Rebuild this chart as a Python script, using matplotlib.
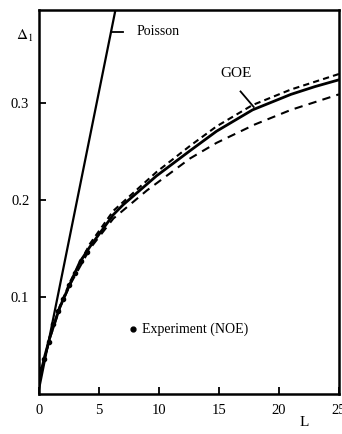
import matplotlib.pyplot as plt

# values
L_goe = [0, 0.5, 0.92, 1.75, 2.6, 3.4, 4.25, 6.2, 7.0, 9.8, 12.6, 14.8, 17.8, 21.0, 23.0, 25.0]
d_goe = [0.014, 0.040, 0.059, 0.090, 0.114, 0.136, 0.152, 0.185, 0.195, 0.225, 0.251, 0.271, 0.293, 0.309, 0.317, 0.324]

L_up = [0, 0.92, 1.75, 2.6, 4.25, 6.2, 9.8, 12.6, 14.8, 17.8, 21.0, 23.0, 25.0]
d_up = [0.014, 0.060, 0.091, 0.116, 0.155, 0.189, 0.229, 0.256, 0.276, 0.298, 0.314, 0.322, 0.330]

L_low = [0, 0.92, 1.75, 2.6, 4.25, 6.2, 9.0, 12.6, 14.8, 18.0, 21.0, 25.0]
d_low = [0.014, 0.058, 0.089, 0.113, 0.150, 0.181, 0.210, 0.243, 0.259, 0.278, 0.293, 0.309]

L_poisson = [0, 6.6]
d_poisson = [0.005, 0.41]

L_exp = [0.1, 0.4, 0.8, 1.2, 1.6, 2.0, 2.5, 3.0, 3.5, 4.0]
d_exp = [0.026, 0.036, 0.054, 0.072, 0.086, 0.098, 0.112, 0.125, 0.137, 0.146]

x_ticks = [0, 5, 10, 15, 20, 25]
y_ticks = [0.1, 0.2, 0.3]

plt.rcParams['font.family'] = ['Liberation Serif', 'DejaVu Serif']
plt.rcParams['mathtext.fontset'] = 'stix'

fig = plt.figure(figsize=(3.42, 4.34), dpi=100)
ax = fig.add_axes([0.114, 0.092, 0.877, 0.885])

ax.plot(L_poisson, d_poisson, color='black', lw=1.6)
ax.plot(L_goe, d_goe, color='black', lw=2.0)
ax.plot(L_up, d_up, color='black', lw=1.5, linestyle=(0, (3, 2)))
ax.plot(L_low, d_low, color='black', lw=1.5, linestyle=(0, (4, 3)))
ax.plot(L_exp, d_exp, 'o', color='black', ms=3)

# leaders to the labels
ax.plot([6.1, 7.0], [0.373, 0.373], color='black', lw=1.3)
ax.plot([16.8, 17.9], [0.312, 0.296], color='black', lw=1.3)

ax.text(8.1, 0.374, "Poisson", fontsize=10, va='center', ha='left')
ax.text(16.4, 0.330, "GOE", fontsize=11, va='center', ha='center')
ax.plot([7.85], [0.067], 'o', color='black', ms=3.5)
ax.text(8.6, 0.067, "Experiment (NOE)", fontsize=10, va='center', ha='left')

ax.set_xlim(0, 25)
ax.set_ylim(0, 0.396)
ax.set_xticks(x_ticks)
ax.set_xticklabels([str(t) for t in x_ticks])
ax.set_yticks(y_ticks)
ax.set_yticklabels(["0.1", "0.2", "0.3"])
ax.tick_params(direction='in', length=5, width=1.3, labelsize=10.5, pad=7)

for s in ax.spines.values():
    s.set_linewidth(1.8)

fig.text(25 / 342, 1 - 36 / 434, r"$\Delta_1$", fontsize=11, ha='center', va='center')
fig.text(304 / 342, 1 - 422 / 434, "L", fontsize=11, ha='center', va='center')

fig.savefig("out.png", dpi=100)
